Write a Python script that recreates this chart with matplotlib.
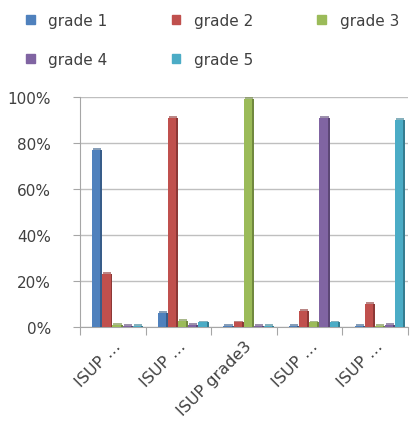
import numpy as np
import matplotlib.pyplot as plt
from matplotlib.patches import Patch

categories = ['ISUP …', 'ISUP …', 'ISUP grade3', 'ISUP …', 'ISUP …']
series = ['grade 1', 'grade 2', 'grade 3', 'grade 4', 'grade 5']
grade1 = [77, 6, 0.5, 0.5, 0.5]
grade2 = [23, 91, 2, 7, 10]
grade3 = [1, 2.5, 99, 2, 0.5]
grade4 = [0.5, 1, 0.5, 91, 1]
grade5 = [0.5, 2, 0.5, 2, 90]
colors = ['#4F81BD', '#C0504D', '#9BBB59', '#8064A2', '#4BACC6']
sides = ['#385D8A', '#8C3836', '#71893F', '#5C4776', '#357D91']

data = [grade1, grade2, grade3, grade4, grade5]
txt = '#404040'

fig = plt.figure(figsize=(4.18, 4.35), dpi=100)
ax = fig.add_axes([80 / 418, 107 / 435, 328 / 418, 230 / 435])

x = np.arange(len(categories))
w = 0.155
depth = 0.03
for i, vals in enumerate(data):
    pos = x - 0.33 + i * w + w / 2
    vals = np.array(vals)
    # front face, darker side face and a light top cap for a bit of depth
    ax.bar(pos, vals, width=w - depth, color=colors[i], zorder=3, align='center')
    ax.bar(pos + (w - depth) / 2 + depth / 2, vals, width=depth,
           color=sides[i], zorder=3)
    ax.bar(pos + depth / 2, np.full(len(vals), 0.8), bottom=vals,
           width=w - depth, color=sides[i], alpha=0.6, zorder=3)

ax.set_xlim(-0.5, len(categories) - 0.5)
ax.set_ylim(0, 100)
ax.set_yticks(np.arange(0, 101, 20))
ax.set_yticklabels([f'{v}%' for v in range(0, 101, 20)], fontsize=11, color=txt)
ax.yaxis.grid(True, color='#BFBFBF', linewidth=1, zorder=0)
ax.set_axisbelow(True)

ax.set_xticks(np.arange(-0.5, len(categories), 1), minor=False)
ax.set_xticklabels([])
ax.set_xticks(x, minor=True)
ax.set_xticklabels(categories, minor=True, rotation=45, ha='right',
                   rotation_mode='anchor', fontsize=11.5, color=txt)
ax.tick_params(axis='x', which='minor', length=0, pad=8)
ax.tick_params(axis='x', which='major', length=6, color='#A6A6A6')
ax.tick_params(axis='y', length=5, color='#A6A6A6', pad=16)

for s in ['top', 'right']:
    ax.spines[s].set_visible(False)
for s in ['left', 'bottom']:
    ax.spines[s].set_color('#A6A6A6')

# legend filled row by row: matplotlib fills columns first
order = [0, 3, 1, 4, 2]
handles = [Patch(color=colors[k]) for k in order]
labels = [series[k] for k in order]
fig.legend(handles, labels, loc='upper left', bbox_to_anchor=(0.03, 1.0),
           ncol=3, frameon=False, fontsize=11, handlelength=0.55,
           handleheight=0.55, handletextpad=0.9, columnspacing=4.2,
           labelspacing=1.6, labelcolor=txt)

fig.savefig('out.png', dpi=100)
